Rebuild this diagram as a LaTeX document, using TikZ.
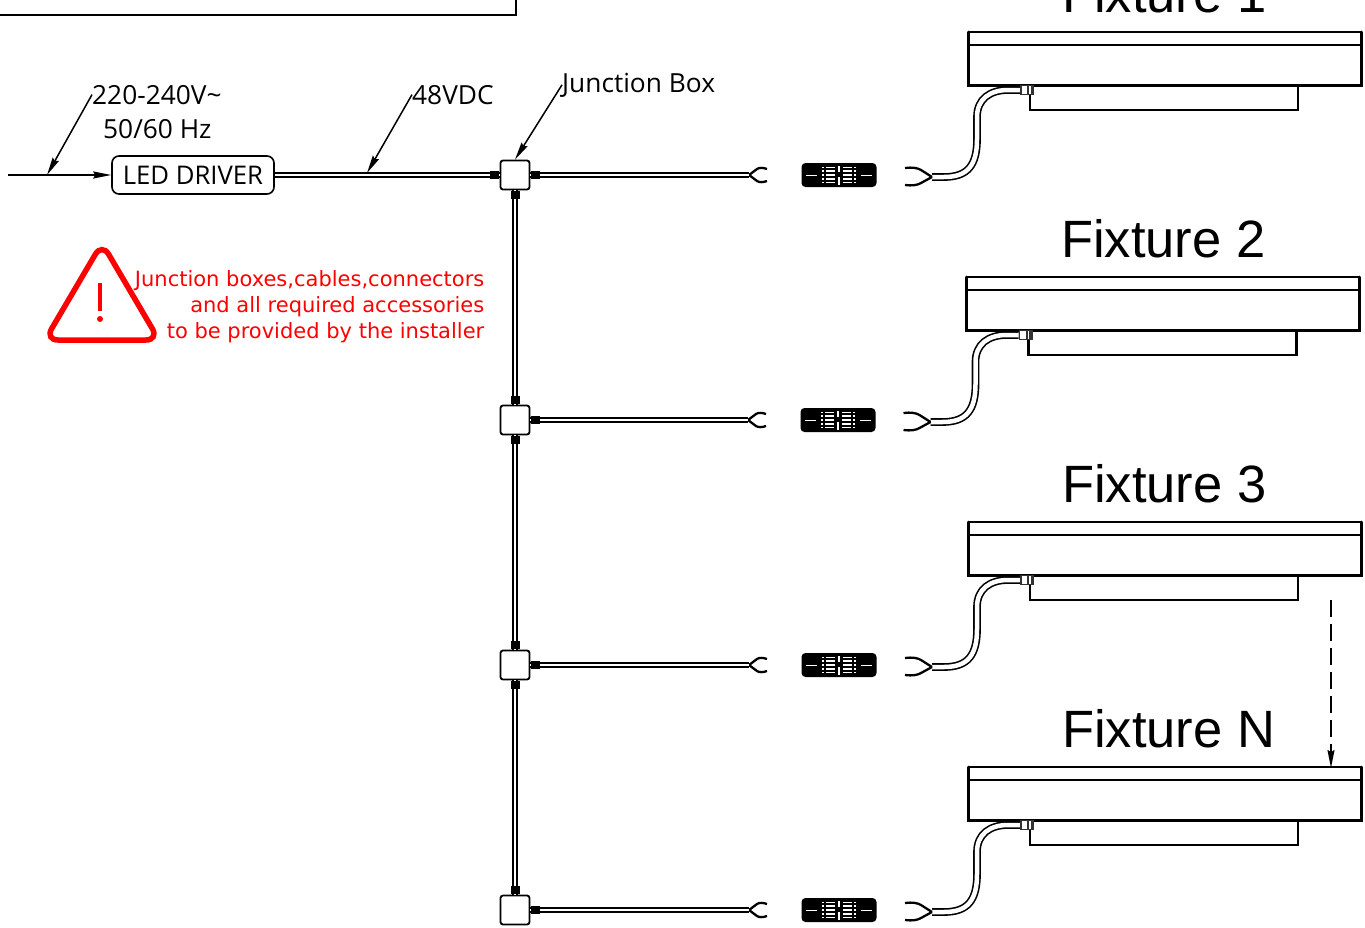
\documentclass[tikz,border=0pt]{standalone}
\usepackage{fontspec}
\setmainfont{Open Sans}
\newfontfamily\titlefont{Liberation Sans}
\newfontfamily\notefont{DejaVu Sans}
\usetikzlibrary{
    positioning,
    arrows.meta,
    calc
}

\begin{document}
\begin{tikzpicture}[
    x=1pt, y=-1pt,
    % Global style settings
    wire_style/.style={
        draw=black, line width=1.9pt, double=white, double distance=2.8pt
    },
    thin_style/.style={
        draw=black, line width=1.5pt
    },
    arrow_tip/.style={
        -{Stealth[length=18pt, width=7pt, inset=2pt]}
    },
    label_style/.style={
        font=\fontsize{26.3}{33}\selectfont, inner sep=0pt, align=center
    },
    title_style/.style={
        font=\titlefont\fontsize{52.5}{52}\selectfont, inner sep=0pt, anchor=base west
    },
    jbox_style/.style={
        draw=black, line width=1.8pt, fill=white, rounded corners=2.5pt,
        minimum width=29pt, minimum height=29pt, inner sep=0pt
    },
    gland_style/.style={
        fill=black, inner sep=0pt, minimum width=9pt, minimum height=8pt
    },
    prong_style/.style={
        draw=black, line width=2.3pt
    },
    % Loose fork ending of the wire coming from a junction box
    pics/forkend/.style={
        code={
            \coordinate (-root) at (0,0);
            \draw[prong_style] (0,0) -- (8,-6) .. controls (10,-7.5) and (14,-7.5) .. (18,-6);
            \draw[prong_style] (0,0) -- (8,6) .. controls (10,7.5) and (14,7.5) .. (18,6);
        }
    },
    % Inline plug between the fork ends
    pics/inlineplug/.style={
        code={
            \fill[black, rounded corners=4pt] (-37.5,-12) rectangle (37.5,12);
            \fill[white] (-17,-8) rectangle (-4,8);
            \fill[white] (4,-8) rectangle (17,8);
            \draw[black, line width=1.7pt] (-17,-6) -- (-4,-6) (-17,-2) -- (-4,-2) (-17,2) -- (-4,2) (-17,6) -- (-4,6);
            \draw[black, line width=1.7pt] (4,-6) -- (17,-6) (4,-2) -- (17,-2) (4,2) -- (17,2) (4,6) -- (17,6);
            \draw[black, line width=2pt] (-14,-9) -- (-14,9) (14,-9) -- (14,9);
            \fill[white] (-1,-9) rectangle (1,-3);
            \fill[white] (-1,2) rectangle (1,10);
            \draw[white, line width=0.6pt] (-33,0) -- (-22,0);
            \draw[white, line width=0.6pt] (22,0) -- (33,0);
        }
    },
    % Fixture with its tail, origin on the wire level at the left edge of the body
    pics/fixture/.style={
        code={
            \draw[line width=1.6pt] (0,-143) -- (393,-143);
            \draw[line width=1.9pt] (0,-130) -- (393,-130);
            \draw[line width=3pt, line cap=round] (0,-143) -- (0,-90) -- (393,-90) -- (393,-143);
            \draw[line width=2.6pt] (62,-90) -- (62,-65) -- (330,-65) -- (330,-90);
            \coordinate (-tail) at (-36,2);
            \draw[line width=1.6pt, double=white, double distance=4.5pt]
                (-36,2) -- (-24,2) .. controls (0,2) and (9,-10) .. (9,-36)
                -- (9,-58) .. controls (9,-76) and (22,-85) .. (40,-85) -- (52,-85);
            \fill[black!80] (52,-90) rectangle (66,-80);
            \fill[white] (53.5,-89) rectangle (59,-81);
            \fill[white] (61,-89) rectangle (62.5,-81);
            \draw[prong_style] (-36,2) -- (-47,-5) .. controls (-50,-7) and (-56,-8) .. (-63,-7);
            \draw[prong_style] (-36,2) -- (-47,8) .. controls (-50,10) and (-56,11) .. (-63,10);
        }
    }
]
    \useasboundingbox (0,0) rectangle (1365,927);

    % 1. Box cut off at the top edge.
    \draw[thin_style] (-2,-2) rectangle (516,15);

    % 2. Driver and junction boxes.
    \node[draw, line width=1.6pt, rounded corners=7pt, inner sep=0pt,
          minimum width=162pt, minimum height=38pt, font=\fontsize{25.7}{26}\selectfont]
          (driver) at (193,175) {LED DRIVER\hspace{6pt}};
    \node[jbox_style] (jbox1) at (515,175) {};
    \node[jbox_style] (jbox2) at (515,420) {};
    \node[jbox_style] (jbox3) at (515,665) {};
    \node[jbox_style] (jbox4) at (515,910) {};

    % 3. Fork ends, plugs and fixtures.
    \pic (forka) at (749,175) {forkend};
    \pic (forkb) at (748,420) {forkend};
    \pic (forkc) at (749,665) {forkend};
    \pic (forkd) at (749,910) {forkend};
    \pic (pluga) at (839,175) {inlineplug};
    \pic (plugb) at (838,420) {inlineplug};
    \pic (plugc) at (839,665) {inlineplug};
    \pic (plugd) at (839,910) {inlineplug};
    \pic (fixa) at (968,175) {fixture};
    \pic (fixb) at (966.5,420) {fixture};
    \pic (fixc) at (968,665) {fixture};
    \pic (fixd) at (968,910) {fixture};

    % 4. Wires between the boxes.
    \draw[wire_style] (driver.east) -- (jbox1.west);
    \draw[wire_style] (jbox1.east) -- (forka-root);
    \draw[wire_style] (jbox2.east) -- (forkb-root);
    \draw[wire_style] (jbox3.east) -- (forkc-root);
    \draw[wire_style] (jbox4.east) -- (forkd-root);
    \draw[wire_style] (jbox1.south) -- (jbox2.north);
    \draw[wire_style] (jbox2.south) -- (jbox3.north);
    \draw[wire_style] (jbox3.south) -- (jbox4.north);

    % 5. Glands on the box sides.
    \node[gland_style, left=0pt of jbox1] (glanda) {};
    \node[gland_style, right=0pt of jbox1] (glandb) {};
    \node[gland_style, below=0pt of jbox1] (glandc) {};
    \node[gland_style, above=0pt of jbox2] (glandd) {};
    \node[gland_style, right=0pt of jbox2] (glande) {};
    \node[gland_style, below=0pt of jbox2] (glandf) {};
    \node[gland_style, above=0pt of jbox3] (glandg) {};
    \node[gland_style, right=0pt of jbox3] (glandh) {};
    \node[gland_style, below=0pt of jbox3] (glandi) {};
    \node[gland_style, above=0pt of jbox4] (glandj) {};
    \node[gland_style, right=0pt of jbox4] (glandk) {};

    % 6. Labels with their leaders.
    \coordinate (mains) at (8,175);
    \coordinate (mainsjoin) at (47,175);
    \draw[thin_style, arrow_tip] (mains) -- (driver.west);

    \node[label_style, anchor=base west] (voltage) at (92,104) {220-240V\textasciitilde};
    \node[label_style, anchor=base west] (hertz) at (103,138) {50/60 Hz};
    \node[label_style, anchor=base west] (dclabel) at (412,104) {48VDC};
    \node[label_style, anchor=base west] (jboxlabel) at (562,92) {Junction Box};
    \coordinate (dcjoin) at (367,173);

    \draw[thin_style, arrow_tip] (voltage.west) -- (mainsjoin);
    \draw[thin_style, arrow_tip] (dclabel.west) -- (dcjoin);
    \draw[thin_style, arrow_tip] (jboxlabel.west) -- (jbox1.north);

    % 7. Warning.
    \draw[red, line width=5.5pt, rounded corners=13pt] (102,243) -- (159,340) -- (45,340) -- cycle;
    \draw[red, line width=4pt] (100,283) -- (100,311);
    \fill[red] (100,319) circle (3);
    \node[font=\notefont\fontsize{21}{26}\selectfont, text=red, align=right, inner sep=0pt, anchor=north east]
        (warning) at (484.5,270) {Junction boxes,cables,connectors\\and all required accessories\\to be provided by the installer};

    % 8. Titles and the dashed link to the last fixture.
    \node[title_style] (titlea) at (1062,12) {Fixture 1};
    \node[title_style] (titleb) at (1061,257) {Fixture 2};
    \node[title_style] (titlec) at (1062,502) {Fixture 3};
    \node[title_style] (titled) at (1062,747) {Fixture N};
    \coordinate (dashfrom) at (1331,600);
    \coordinate (dashto) at (1331,768);
    \draw[thin_style, dash pattern=on 17pt off 7pt, arrow_tip] (dashfrom) -- (dashto);
\end{tikzpicture}
\end{document}
